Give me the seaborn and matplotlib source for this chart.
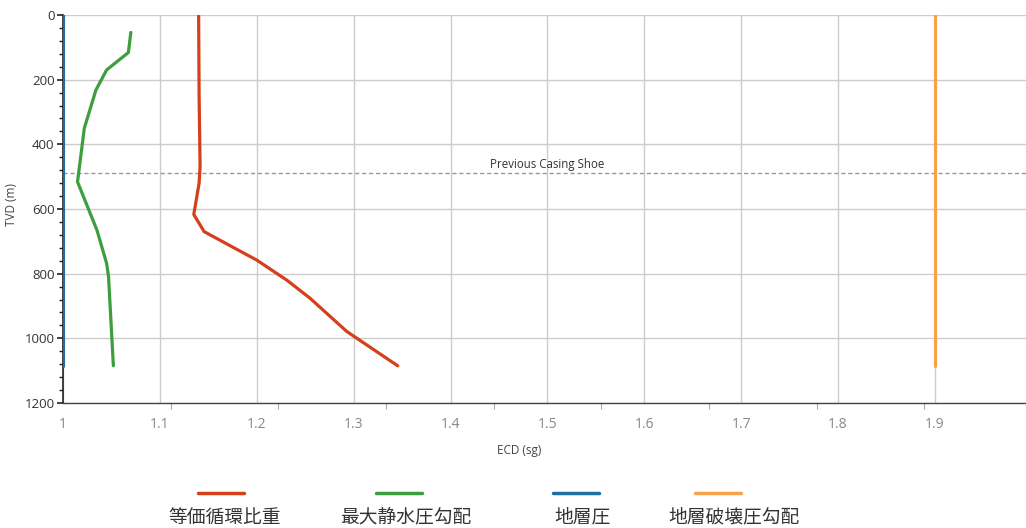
import numpy as np
import pandas as pd
import matplotlib
matplotlib.use("Agg")
import matplotlib.pyplot as plt
import seaborn as sns
from matplotlib.lines import Line2D
from matplotlib.ticker import MultipleLocator, FixedLocator

# ---- data ----
ecd_x = [1.140, 1.1405, 1.1415, 1.1405, 1.1350, 1.1457, 1.1777, 1.200, 1.231, 1.255, 1.293, 1.3455]
ecd_y = [0, 250, 469, 520, 617, 670, 722, 758, 820, 876, 979, 1085]

hyd_x = [1.0700, 1.0675, 1.045, 1.034, 1.022, 1.015, 1.035, 1.045, 1.047, 1.052]
hyd_y = [54, 116, 170, 232, 350, 516, 665, 768, 809, 1085]

pore_x = [1.0, 1.0]
pore_y = [0, 1085]

frac_x = [1.9, 1.9]
frac_y = [0, 1085]

shoe_depth = 489
shoe_label = "Previous Casing Shoe"

legend_labels = ["等価循環比重", "最大静水圧勾配", "地層圧", "地層破壊圧勾配"]
colors = ["#d4401b", "#3c9e3c", "#1f6fa5", "#f8a34a"]

x_ticks = [1, 1.1, 1.2, 1.3, 1.4, 1.5, 1.6, 1.7, 1.8, 1.9]
y_ticks = [0, 200, 400, 600, 800, 1000, 1200]

# ---- plotting ----
sns.set_theme(style="white")
plt.rcParams['font.family'] = ['Noto Sans CJK JP', 'DejaVu Sans']

fig = plt.figure(figsize=(10.26, 5.28), dpi=100)
ax = fig.add_axes([63/1026, 1-403/528, (1026-63)/1026, (403-15)/528])

series = [(ecd_x, ecd_y), (hyd_x, hyd_y), (pore_x, pore_y), (frac_x, frac_y)]
for (xs, ys), lab, c in zip(series, legend_labels, colors):
    df = pd.DataFrame({"x": xs, "y": ys})
    sns.lineplot(data=df, x="x", y="y", sort=False, estimator=None, color=c,
                 lw=2.3, ax=ax, zorder=5, legend=False)

ax.axhline(shoe_depth, color="#999999", lw=1.0, ls=(0, (3, 2)), zorder=3)
ax.text(1.5, shoe_depth - 8, shoe_label, ha="center", va="bottom", fontsize=8.3,
        color="#333333", family=["Open Sans", "DejaVu Sans"])

ax.set_xlim(1.0, 1.994)
ax.set_ylim(1200, 0)

ax.set_xticks(x_ticks)
ax.set_xticklabels([f"{v:g}" for v in x_ticks])
ax.set_yticks(y_ticks)
ax.xaxis.set_minor_locator(FixedLocator([1 + k/9 for k in range(9)]))
ax.yaxis.set_minor_locator(MultipleLocator(40))

ax.grid(True, which="major", color="#cccccc", lw=1.0)
ax.set_axisbelow(True)

for s in ["top", "right"]:
    ax.spines[s].set_visible(False)
ax.spines["left"].set_color("#222222")
ax.spines["bottom"].set_color("#444444")
ax.spines["left"].set_linewidth(1.2)
ax.spines["bottom"].set_linewidth(1.0)

ax.tick_params(axis="x", which="major", length=0, pad=10, labelsize=10, labelcolor="#888888")
ax.tick_params(axis="x", which="minor", bottom=True, length=4, width=0.8, color="#aaaaaa", pad=0)
ax.tick_params(axis="y", which="major", left=True, length=4, width=1.2, color="#222222", labelsize=9.5, labelcolor="#333333", pad=2)
ax.tick_params(axis="y", which="minor", left=True, length=3, width=1.0, color="#222222")
for t in ax.get_xticklabels() + ax.get_yticklabels():
    t.set_family(["Open Sans", "DejaVu Sans"])

ax.set_xlabel("ECD (sg)", fontsize=8.5, color="#444444", family=["Open Sans", "DejaVu Sans"])
ax.set_ylabel("TVD (m)", fontsize=8.5, color="#444444", family=["Open Sans", "DejaVu Sans"])
ax.xaxis.set_label_coords((519-63)/(1026-63), -(444-403)/388)
ax.yaxis.set_label_coords(-(63-18)/963, (403-205)/388)

# legend: line above label
line_cx = [221, 399, 576, 718]
text_cx = [225, 406, 582, 734]
for lab, c, lx, tx in zip(legend_labels, colors, line_cx, text_cx):
    fig.add_artist(Line2D([(lx-23)/1026, (lx+23)/1026], [1-493/528, 1-493/528],
                          color=c, lw=2.5, transform=fig.transFigure))
    fig.text(tx/1026, 1-517/528, lab, ha="center", va="center", fontsize=13.5, color="#333333")

fig.savefig("out.png", dpi=100)
